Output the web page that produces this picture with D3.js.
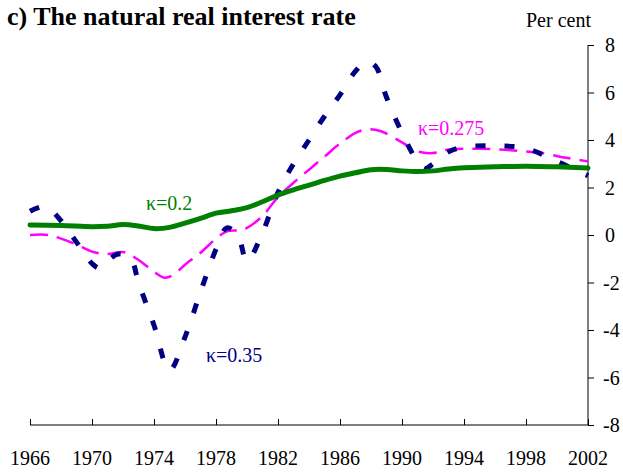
<!DOCTYPE html>
<html><head><meta charset="utf-8">
<script src="https://cdn.jsdelivr.net/npm/d3@7"></script>
<style>body{margin:0;background:#fff}svg{display:block}text{font-family:"Liberation Serif","Times New Roman",serif}</style>
</head><body><svg id="c" width="623" height="472"></svg>
<script>
const xTicks = [1966,1970,1974,1978,1982,1986,1990,1994,1998,2002];
const yTicks = [-8,-6,-4,-2,0,2,4,6,8];

const greenYears = [1966,1968,1970,1971,1972,1973,1974,1975,1976,1977,1978,1979,1980,1981,1982,1983,1984,1985,1986,1987,1988,1989,1990,1991,1992,1993,1994,1996,1998,2000,2002];
const greenVals  = [0.42,0.4,0.35,0.37,0.44,0.38,0.27,0.32,0.5,0.7,0.92,1.02,1.15,1.4,1.68,1.9,2.1,2.3,2.48,2.62,2.75,2.76,2.7,2.67,2.7,2.78,2.83,2.87,2.9,2.87,2.82];

const pinkYears = [1966,1967.2,1968,1969,1970,1971,1972,1973,1974,1974.7,1975.3,1976,1977,1978,1978.7,1979.5,1980,1981,1982,1983,1984,1985,1986,1987,1987.8,1988.6,1990,1991,1992,1993,1995,1997,1999,2000.6,2002];
const pinkVals  = [0,0,-0.15,-0.4,-0.7,-0.8,-0.72,-1.05,-1.55,-1.8,-1.65,-1.25,-0.75,-0.15,0.15,0.2,0.3,0.8,1.6,2.2,2.75,3.3,3.85,4.3,4.45,4.38,3.9,3.52,3.45,3.6,3.63,3.57,3.45,3.25,3.1];

const navyYears = [1966,1967,1968,1969,1970,1970.5,1971,1971.7,1972.5,1973,1974,1975,1976,1977,1978,1978.7,1979.4,1980,1981,1982,1983,1984,1985,1986,1987,1987.7,1988.3,1989,1990,1991,1991.5,1992,1993,1994,1996,1998,2000,2001,2002];
const navyVals  = [1.0,1.2,0.6,-0.3,-1.2,-1.4,-1.1,-0.8,-1.0,-2.0,-3.8,-5.7,-4.3,-2.4,-0.6,0.3,0.0,-1.1,0.1,1.8,3.0,4.0,5.0,5.9,6.9,7.3,7.1,5.8,4.3,3.1,2.8,3.0,3.5,3.7,3.75,3.65,3.1,2.8,2.5];

const svg = d3.select("#c");
const x = d3.scaleLinear().domain([1966,2002]).range([30,588]);
const y = d3.scaleLinear().domain([-8,8]).range([425,45]);

// axes
const xAxis = d3.axisTop(x).tickValues(xTicks).tickSize(6).tickFormat("");
const gx = svg.append("g").attr("transform","translate(0,425)").call(xAxis);
gx.select(".domain").attr("d","M30,0H588");
const yAxis = d3.axisRight(y).tickValues(yTicks).tickSize(6).tickFormat("");
const gy = svg.append("g").attr("transform","translate(588,0)").call(yAxis);
gy.select(".domain").attr("d","M0,45V425");
svg.selectAll(".domain,.tick line").attr("stroke","#000").attr("stroke-width",1);

svg.append("g").selectAll("text").data(xTicks).join("text")
  .attr("x",d=>x(d)).attr("y",465).attr("text-anchor","middle")
  .attr("font-size",20).text(d=>d);
svg.append("g").selectAll("text").data(yTicks).join("text")
  .attr("x",d=>d<0?603:605).attr("y",d=>y(d)).attr("dy","0.35em")
  .attr("font-size",20).text(d=>d);

const line = d3.line().x(d=>x(d[0])).y(d=>y(d[1])).curve(d3.curveCatmullRom.alpha(0.5));
const zip = (a,b)=>a.map((v,i)=>[v,b[i]]);

svg.append("path").attr("d",line(zip(pinkYears,pinkVals)))
  .attr("fill","none").attr("stroke","#ff00ff").attr("stroke-width",2.5).attr("stroke-dasharray","18,9");
svg.append("path").attr("d",line(zip(navyYears,navyVals)))
  .attr("fill","none").attr("stroke","#000080").attr("stroke-width",5).attr("stroke-dasharray","10,19");
svg.append("path").attr("d",line(zip(greenYears,greenVals)))
  .attr("fill","none").attr("stroke","#008000").attr("stroke-width",5).attr("stroke-linecap","round");

svg.append("text").attr("x",146).attr("y",210).attr("font-size",20).attr("fill","#008000").text("κ=0.2");
svg.append("text").attr("x",206).attr("y",362).attr("font-size",20).attr("fill","#000080").text("κ=0.35");
svg.append("text").attr("x",418).attr("y",135).attr("font-size",20).attr("fill","#ff00ff").text("κ=0.275");

svg.append("text").attr("x",7).attr("y",25).attr("font-size",26).attr("font-weight","bold").text("c) The natural real interest rate");
svg.append("text").attr("x",526).attr("y",27).attr("font-size",20).text("Per cent");
</script></body></html>
